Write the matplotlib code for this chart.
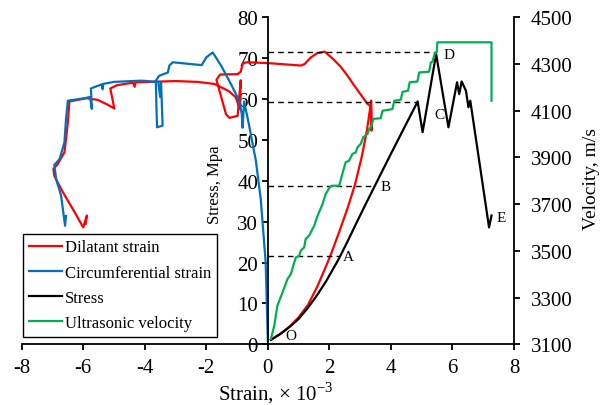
import matplotlib
matplotlib.use("Agg")
import matplotlib.pyplot as plt

plt.rcParams['font.family'] = ['Liberation Serif', 'DejaVu Serif']
plt.rcParams['mathtext.fontset'] = 'custom'
plt.rcParams['mathtext.rm'] = 'Liberation Serif'
plt.rcParams['axes.unicode_minus'] = False

# 應力 (black)
stress_x = [0.10, 0.40, 0.70, 1.00, 1.30, 1.60, 1.90, 2.30, 2.60, 2.90,
            3.20, 3.46, 4.00, 4.87, 5.03, 5.47, 5.87, 6.15, 6.22, 6.30, 6.44,
            6.52, 6.58, 7.19, 7.27]
stress_y = [1.1, 2.5, 4.2, 6.2, 8.9, 12.0, 15.5, 20.8, 25.3, 30.0,
            34.6, 38.5, 46.6, 59.4, 51.9, 71.0, 53.1, 64.1, 61.2, 64.3, 62.0,
            58.0, 59.6, 28.6, 31.5]

# 體積應變 (red)
dil_x = [0.10, 0.40, 0.70, 1.00, 1.30, 1.60, 1.75, 2.04, 2.32, 2.60, 2.83, 3.05,
         3.22, 3.32, 3.36, 3.37, 3.35, 3.24, 3.00, 2.81, 2.60, 2.38, 2.15, 2.00,
         1.85, 1.60, 1.40, 1.20, 1.08, 0.00, -0.71, -0.82, -0.88, -0.98, -1.55,
         -1.67, -1.36, -1.25, -0.98, -0.93, -0.88, -0.90, -1.05, -1.28, -1.74,
         -2.28, -3.00, -4.30, -4.33, -4.38, -4.90, -5.12, -4.99, -5.20, -5.53,
         -5.90, -6.45, -6.50, -6.56, -6.61, -6.83, -6.97, -6.94, -6.66, -6.30,
         -6.00, -5.88, -5.92]
dil_y = [1.1, 2.5, 4.3, 6.6, 9.6, 14.0, 16.6, 21.8, 27.5, 33.5, 39.0, 45.8,
         52.3, 57.5, 59.6, 52.3, 58.3, 58.8, 61.3, 63.3, 65.6, 67.8, 69.6, 70.6,
         71.6, 71.2, 70.2, 68.6, 68.2, 68.8, 69.0, 68.6, 66.7, 66.1, 66.0,
         64.7, 56.3, 55.4, 55.9, 60.5, 64.6, 57.6, 60.5, 62.0, 63.7,
         64.2, 64.4, 64.1, 63.0, 64.0, 63.4, 62.6, 57.7, 58.6, 59.8,
         60.2, 59.4, 54.3, 50.2, 47.0, 44.1, 42.9, 41.2, 37.2, 32.6,
         28.6, 31.5, 29.5]

# 環向應變 (blue)
circ_x = [0.00, -0.07, -0.23, -0.39, -0.52, -0.62, -0.77, -0.82, -0.85, -0.93,
          -1.20, -1.52, -1.79, -2.00, -2.15, -3.09, -3.20, -3.25, -3.53, -3.64,
          -3.62, -3.60, -3.42, -3.47, -3.50, -3.56, -4.12, -5.00, -5.35, -5.37,
          -5.40, -5.75, -5.72, -5.78, -5.96, -6.50, -6.56, -6.61, -6.77, -6.94,
          -6.88, -6.72, -6.59, -6.56]
circ_y = [0.8, 20.0, 35.5, 45.0, 50.0, 54.0, 59.4, 53.0, 56.5, 59.6,
          63.7, 68.2, 71.4, 70.2, 68.3, 69.0, 68.2, 66.5, 65.7, 64.5,
          58.0, 53.1, 53.5, 64.1, 60.5, 64.2, 64.5, 64.2, 63.7, 62.4,
          63.6, 62.6, 57.6, 60.5, 60.2, 59.6, 55.1, 49.4, 45.3, 43.9,
          40.4, 36.4, 29.0, 31.4]

# 超聲波速 (green, right axis)
vel_x = [0.10, 0.21, 0.31, 0.48, 0.64, 0.75, 0.86, 0.91, 1.02, 1.07, 1.18, 1.23,
         1.34, 1.51, 1.61, 1.78, 1.88, 2.01, 2.08, 2.32, 2.45, 2.53, 2.64, 2.75,
         2.86, 2.91, 3.02, 3.10, 3.24, 3.29, 3.35, 3.43, 3.67, 3.73, 4.05, 4.11,
         4.32, 4.38, 4.56, 4.61, 4.86, 4.92, 5.24, 5.30, 5.35, 5.43, 5.49, 5.51,
         7.27, 7.27]
vel_y = [3123, 3180, 3265, 3323, 3380, 3401, 3451, 3472, 3479, 3501, 3515, 3551,
         3565, 3608, 3648, 3701, 3743, 3772, 3779, 3779, 3843, 3879, 3886, 3915,
         3922, 3943, 3958, 3986, 4001, 4022, 4029, 4065, 4068, 4100, 4107, 4143,
         4147, 4181, 4186, 4222, 4225, 4264, 4267, 4307, 4310, 4347, 4350, 4393,
         4393, 4143]

# 特徵點 O A B C D E
pt_names = ['O', 'A', 'B', 'C', 'D', 'E']
pt_x = [0.75, 2.63, 3.84, 5.57, 5.89, 7.57]
pt_y = [2.1, 21.5, 38.6, 56.3, 71.0, 31.1]
dash_y = [21.5, 38.8, 59.2, 71.6]
dash_end = [2.32, 3.48, 4.82, 5.46]

fig = plt.figure(figsize=(6.11, 4.06), dpi=100)
ax = fig.add_axes([0.0355, 0.1495, 0.8057, 0.8054])
ax2 = ax.twinx()

l1, = ax.plot(dil_x, dil_y, color='#FF0000', lw=1.6, label='Dilatant strain')
l2, = ax.plot(circ_x, circ_y, color='#0070C0', lw=1.6, label='Circumferential strain')
l3, = ax.plot(stress_x, stress_y, color='black', lw=1.6, label='Stress')
for yy, xe in zip(dash_y, dash_end):
    ax.plot([0, xe], [yy, yy], color='black', lw=1.0, ls=(0, (4, 3)))
for name, xx, yy in zip(pt_names, pt_x, pt_y):
    ax.text(xx, yy, name, fontsize=11, ha='center', va='center')

l4, = ax2.plot(vel_x, vel_y, color='#00B050', lw=1.6, label='Ultrasonic velocity')

ax.set_xlim(-8, 8)
ax.set_ylim(0, 80)
ax2.set_ylim(3100, 4500)
ax.set_xticks(range(-8, 9, 2))
ax.set_yticks(range(0, 81, 10))
ax2.set_yticks(range(3100, 4501, 200))

ax.spines['left'].set_position(('data', 0))
ax.spines['right'].set_visible(False)
ax.spines['top'].set_visible(False)
for s in ['left', 'top', 'bottom']:
    ax2.spines[s].set_visible(False)
for s in [ax.spines['left'], ax.spines['bottom'], ax2.spines['right']]:
    s.set_linewidth(1.3)

ax.tick_params(axis='x', direction='out', length=4, width=1.3, labelsize=15, pad=6)
ax.tick_params(axis='y', direction='out', length=4, width=1.3, labelsize=15, pad=3)
ax2.tick_params(axis='y', direction='out', length=4, width=1.3, labelsize=15, pad=8)

ax.set_xlabel('Strain, × 10$^{-3}$', fontsize=15)
ax.xaxis.set_label_coords(0.515, -0.108)
ax.set_ylabel('Stress, Mpa', fontsize=12)
ax.yaxis.set_label_coords(0.409, 0.49)
ax2.set_ylabel('Velocity, m/s', fontsize=14)
ax2.yaxis.set_label_coords(1.14, 0.51)

leg = ax2.legend(handles=[l1, l2, l3, l4], loc='lower left',
                 bbox_to_anchor=(0.002, 0.023), borderaxespad=0, fontsize=12,
                 handlelength=2.0, handletextpad=0.2, labelspacing=0.55,
                 borderpad=0.35, fancybox=False, framealpha=1, edgecolor='black')
leg.get_frame().set_linewidth(1.0)

plt.savefig('out.png', dpi=100)
